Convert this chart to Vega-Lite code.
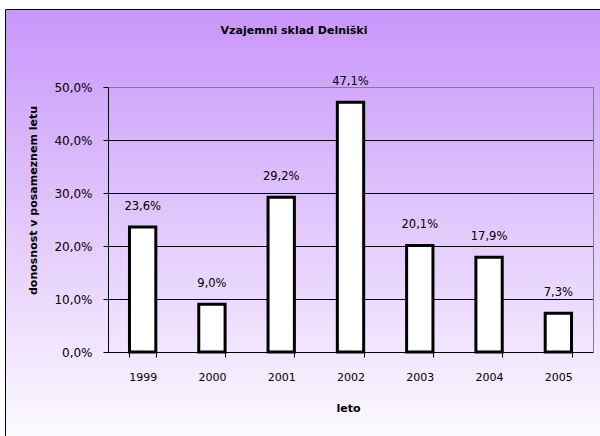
{
  "$schema": "https://vega.github.io/schema/vega-lite/v6.json",
  "width": 598,
  "height": 430,
  "autosize": "none",
  "padding": {"left": 5, "top": 9, "right": 0, "bottom": 0},
  "background": "white",
  "view": {
    "fill": {
      "gradient": "linear",
      "x1": 0, "y1": 0, "x2": 0, "y2": 1,
      "stops": [
        {"offset": 0, "color": "#c896fa"},
        {"offset": 1, "color": "#fcfbff"}
      ]
    },
    "stroke": "black",
    "strokeWidth": 1
  },
  "title": {
    "text": "Vzajemni sklad Delniški",
    "frame": "group",
    "anchor": "middle",
    "offset": -27,
    "dx": -10,
    "font": "DejaVu Sans",
    "fontSize": 11,
    "fontWeight": "bold",
    "color": "black"
  },
  "config": {
    "locale": {
      "number": {
        "decimal": ",",
        "thousands": ".",
        "grouping": [3],
        "currency": ["", " €"]
      }
    },
    "font": "DejaVu Sans"
  },
  "data": {
    "values": [
      {"leto": "1999", "donosnost": 0.236},
      {"leto": "2000", "donosnost": 0.090},
      {"leto": "2001", "donosnost": 0.292},
      {"leto": "2002", "donosnost": 0.471},
      {"leto": "2003", "donosnost": 0.201},
      {"leto": "2004", "donosnost": 0.179},
      {"leto": "2005", "donosnost": 0.073}
    ]
  },
  "encoding": {
    "x": {
      "field": "leto",
      "type": "ordinal",
      "scale": {"range": [103, 588], "paddingInner": 0.62, "paddingOuter": 0.31},
      "axis": {
        "orient": "bottom",
        "offset": -87,
        "title": "leto",
        "titleFont": "DejaVu Sans",
        "titleFontSize": 11,
        "titleFontWeight": "bold",
        "titleColor": "black",
        "titleX": 343,
        "titleY": 56,
        "titleBaseline": "middle",
        "titleAlign": "center",
        "labelAngle": 0,
        "labelFont": "DejaVu Sans",
        "labelFontSize": 11,
        "labelColor": "black",
        "labelPadding": 14,
        "tickBand": "extent",
        "tickSize": 5,
        "tickColor": "black",
        "domainColor": "black",
        "grid": false
      }
    },
    "y": {
      "field": "donosnost",
      "type": "quantitative",
      "scale": {"domain": [0, 0.5], "range": [343, 78], "nice": false, "zero": true}
    }
  },
  "layer": [
    {
      "mark": {"type": "bar", "fill": "white", "stroke": "black", "strokeWidth": 3},
      "encoding": {
        "y": {
          "field": "donosnost",
          "type": "quantitative",
          "axis": {
            "orient": "left",
            "offset": -103,
            "values": [0, 0.1, 0.2, 0.3, 0.4, 0.5],
            "format": ".1%",
            "title": "donosnost v posameznem letu",
            "titleFont": "DejaVu Sans",
            "titleFontSize": 11,
            "titleFontWeight": "bold",
            "titleColor": "black",
            "titleAngle": -90,
            "titleX": -75,
            "titleY": 191,
            "titleBaseline": "middle",
            "titleAlign": "center",
            "labelFont": "DejaVu Sans",
            "labelFontSize": 12,
            "labelColor": "black",
            "labelPadding": 11,
            "tickSize": 5,
            "tickColor": "black",
            "domainColor": "black",
            "grid": true,
            "gridColor": {"condition": {"test": "datum.value >= 0.5", "value": "#808080"}, "value": "black"},
            "gridOpacity": 1
          }
        }
      }
    },
    {
      "mark": {"type": "text", "baseline": "middle", "dy": -20, "font": "DejaVu Sans", "fontSize": 11.5, "color": "black"},
      "encoding": {
        "text": {"field": "donosnost", "type": "quantitative", "format": ".1%"},
        "y": {
          "field": "donosnost",
          "type": "quantitative",
          "axis": {
            "orient": "right",
            "offset": -10,
            "labels": false,
            "ticks": false,
            "grid": false,
            "title": null,
            "domainColor": "#808080"
          }
        }
      }
    }
  ],
  "resolve": {"axis": {"y": "independent"}}
}
